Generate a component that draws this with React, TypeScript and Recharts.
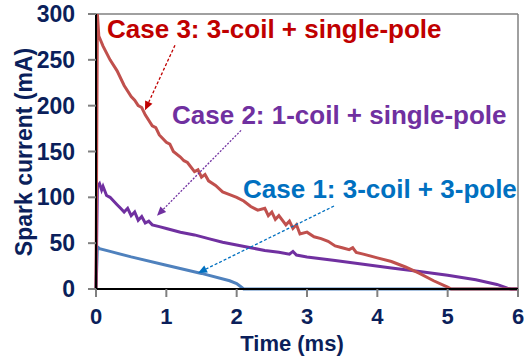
import { LineChart, Line, XAxis, YAxis, ReferenceLine } from 'recharts';

// spark current traces (time in ms, current in mA)
const case3Time = [0, 0.02, 0.04, 0.1, 0.2, 0.3, 0.4, 0.5, 0.55, 0.6, 0.65, 0.7, 0.8, 0.85, 0.9, 1.0, 1.05, 1.1, 1.2, 1.25, 1.3, 1.4, 1.45, 1.5, 1.55, 1.6, 1.7, 1.8, 1.9, 2.0, 2.1, 2.2, 2.3, 2.4, 2.45, 2.5, 2.55, 2.6, 2.7, 2.75, 2.8, 2.85, 2.9, 3.0, 3.1, 3.2, 3.3, 3.4, 3.5, 3.6, 3.65, 3.7, 3.8, 4.0, 4.2, 4.4, 4.6, 4.8, 5.0, 5.05, 6.0];
const case3Current = [0, 300, 276, 265, 250, 238, 222, 210, 206, 200, 198, 190, 178, 176, 168, 160, 158, 150, 144, 140, 138, 128, 130, 122, 125, 118, 113, 106, 103, 100, 96, 90, 86, 88, 80, 84, 76, 80, 70, 74, 66, 70, 60, 62, 57, 55, 52, 47, 45, 43, 45, 40, 38, 34, 30, 24, 17, 9, 2, 0, 0];

const case2Time = [0, 0.02, 0.05, 0.08, 0.1, 0.15, 0.2, 0.25, 0.3, 0.35, 0.4, 0.45, 0.5, 0.55, 0.6, 0.65, 0.7, 0.75, 0.8, 0.9, 1.0, 1.2, 1.4, 1.6, 1.8, 2.0, 2.2, 2.4, 2.6, 2.75, 2.8, 2.85, 3.0, 3.4, 3.8, 4.2, 4.6, 5.0, 5.4, 5.7, 5.85, 5.9, 6.0];
const case2Current = [0, 112, 115, 108, 112, 102, 100, 96, 92, 88, 84, 88, 80, 84, 75, 79, 72, 74, 70, 68, 66, 62, 59, 55, 51, 48, 45, 42, 40, 38, 41, 37, 35, 31, 27, 23, 19, 15, 10, 5, 1, 0, 0];

const case1Time = [0, 0.02, 0.05, 0.2, 0.5, 1.0, 1.5, 1.9, 2.0, 2.05, 2.1, 6.0];
const case1Current = [0, 46, 44, 41, 35, 26, 17, 9, 6, 3, 0, 0];

const xTicks = [0, 1, 2, 3, 4, 5, 6];
const yTicks = [0, 50, 100, 150, 200, 250, 300];

const toPoints = (t: number[], v: number[]) => t.map((x, i) => ({ t: x, mA: v[i] }));

const FONT = '"Liberation Sans", Arial, sans-serif';
const NAVY = '#0B1F5B';

const arrow = (color: string, dash: string) => (props: any) => {
  const { x1, y1, x2, y2 } = props;
  const a = Math.atan2(y2 - y1, x2 - x1);
  const len = 9;
  const hw = 4;
  const bx = x2 - len * Math.cos(a);
  const by = y2 - len * Math.sin(a);
  const px = -Math.sin(a) * hw;
  const py = Math.cos(a) * hw;
  return (
    <g>
      <line x1={x1} y1={y1} x2={bx} y2={by} stroke={color} strokeWidth={1.3} strokeDasharray={dash} />
      <polygon points={`${x2},${y2} ${bx + px},${by + py} ${bx - px},${by - py}`} fill={color} />
    </g>
  );
};

export default function App() {
  return (
    <div style={{ position: 'absolute', left: 0, top: 0, width: 524, height: 358, background: '#fff' }}>
      <LineChart width={524} height={358} margin={{ top: 14, right: 6, bottom: 0, left: 0 }}>
        <XAxis
          dataKey="t"
          type="number"
          domain={[0, 6]}
          ticks={xTicks}
          height={69}
          axisLine={{ stroke: '#000', strokeWidth: 2 }}
          tickLine={{ stroke: '#808080', strokeWidth: 2 }}
          tickSize={8}
          tickMargin={11}
          tick={{ fill: NAVY, fontSize: 22, fontWeight: 700, fontFamily: FONT }}
        />
        <YAxis
          type="number"
          domain={[0, 300]}
          ticks={yTicks}
          width={96}
          axisLine={{ stroke: '#000', strokeWidth: 2 }}
          tickLine={{ stroke: '#808080', strokeWidth: 2 }}
          tickSize={8}
          tickMargin={13}
          tick={{ fill: NAVY, fontSize: 23, fontWeight: 700, fontFamily: FONT }}
        />
        <ReferenceLine y={300} stroke="#808080" strokeWidth={1.5} />
        <ReferenceLine x={6} stroke="#808080" strokeWidth={1.5} />
        <Line data={toPoints(case1Time, case1Current)} dataKey="mA" stroke="#4F81BD" strokeWidth={3} dot={false} isAnimationActive={false} />
        <Line data={toPoints(case2Time, case2Current)} dataKey="mA" stroke="#7030A0" strokeWidth={3} dot={false} isAnimationActive={false} />
        <Line data={toPoints(case3Time, case3Current)} dataKey="mA" stroke="#C0504D" strokeWidth={3} dot={false} isAnimationActive={false} />
        <ReferenceLine segment={[{ x: 1.123, y: 266 }, { x: 0.697, y: 195 }]} shape={arrow('#C00000', '3 2')} />
        <ReferenceLine segment={[{ x: 2.062, y: 173 }, { x: 0.867, y: 80 }]} shape={arrow('#7030A0', '2 1.5')} />
        <ReferenceLine segment={[{ x: 3.384, y: 90.5 }, { x: 1.45, y: 17.5 }]} shape={arrow('#0070C0', '3 2')} />
      </LineChart>
      <svg width={524} height={358} style={{ position: 'absolute', left: 0, top: 0, pointerEvents: 'none' }}>
        <g fontFamily={FONT} fontWeight={700}>
          <text x={107} y={38} fontSize={26} fill="#C00000">Case 3: 3-coil + single-pole</text>
          <text x={172} y={124} fontSize={26} fill="#7030A0">Case 2: 1-coil + single-pole</text>
          <text x={243} y={198} fontSize={26} fill="#0070C0">Case 1: 3-coil + 3-pole</text>
          <text x={292} y={351} fontSize={22} fill={NAVY} textAnchor="middle">Time (ms)</text>
          <text x={32} y={152} fontSize={23} fill={NAVY} textAnchor="middle" transform="rotate(-90 32 152)">Spark current (mA)</text>
        </g>
      </svg>
    </div>
  );
}
